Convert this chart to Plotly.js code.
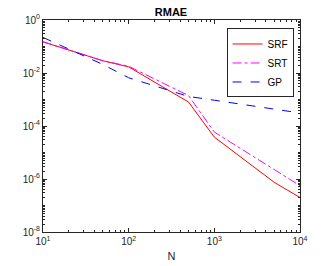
<!DOCTYPE html>
<html><head><meta charset="utf-8">
<script src="https://cdn.plot.ly/plotly-3.0.1.min.js"></script>
<style>body{margin:0;background:#fff}#c{width:332px;height:266px}</style>
</head><body><div id="c"></div>
<script>
const N = [10, 50, 100, 500, 1000, 5000, 10000];
const SRF = [0.15, 0.029, 0.017, 8e-4, 3.8e-5, 7.5e-7, 2.0e-7];
const SRT = [0.15, 0.029, 0.018, 1.4e-3, 5.9e-5, 2.4e-6, 5.6e-7];
const GP  = [0.22, 0.021, 0.0066, 1.3e-3, 9.4e-4, 4.3e-4, 3.1e-4];
const names = ['SRF', 'SRT', 'GP'];
const xTickExp = [1, 2, 3, 4];
const yTickExp = [-8, -6, -4, -2, 0];

const pow = e => Math.pow(10, e);
const lbl = e => '10<sup>' + e + '</sup>';
function minorVals(e0, e1) {
  const v = [];
  for (let e = e0; e < e1; e++) for (let m = 2; m <= 10; m++) v.push(m * Math.pow(10, e));
  return v;
}
const font = 'Liberation Sans, Arial';
const axisCommon = {
  type: 'log', showgrid: false, zeroline: false, showline: true, mirror: 'allticks',
  linecolor: '#262626', linewidth: 1, ticks: 'inside', ticklen: 4, tickcolor: '#262626',
  tickmode: 'array', tickfont: {family: font, size: 10, color: '#262626'}
};

const traces = [
  {x: N, y: SRF, name: names[0], mode: 'lines', line: {color: '#ff0000', width: 1}},
  {x: N, y: SRT, name: names[1], mode: 'lines', line: {color: '#ff00ff', width: 1, dash: 'dashdot'}},
  {x: N, y: GP,  name: names[2], mode: 'lines', line: {color: '#0000ff', width: 1, dash: 'dash'}}
];

const layout = {
  width: 332, height: 266,
  margin: {l: 43, r: 32, t: 20, b: 34},
  paper_bgcolor: '#fff', plot_bgcolor: '#fff',
  title: {text: '<b>RMAE</b>', x: 0.515, xanchor: 'center', y: 0.955, yanchor: 'middle',
          font: {family: font, size: 11, color: '#000'}},
  xaxis: Object.assign({}, axisCommon, {range: [1, 4],
          tickvals: xTickExp.map(pow), ticktext: xTickExp.map(lbl),
          minor: {tickmode: 'array', tickvals: minorVals(1, 4), ticks: 'inside', ticklen: 2, tickcolor: '#262626', showgrid: false},
          title: {text: 'N', font: {family: font, size: 11, color: '#262626'}, standoff: 6}}),
  yaxis: Object.assign({}, axisCommon, {range: [-8, 0],
          tickvals: yTickExp.map(pow), ticktext: yTickExp.map(lbl),
          minor: {tickmode: 'array', tickvals: minorVals(-8, 0), ticks: 'inside', ticklen: 2, tickcolor: '#262626', showgrid: false}}),
  showlegend: true,
  legend: {x: 0.975, xanchor: 'right', y: 0.96, yanchor: 'top', bgcolor: '#fff',
           bordercolor: '#262626', borderwidth: 1,
           font: {family: font, size: 10, color: '#000'},
           tracegroupgap: 0, itemwidth: 30}
};
Plotly.newPlot('c', traces, layout, {staticPlot: true, displayModeBar: false});
</script></body></html>
